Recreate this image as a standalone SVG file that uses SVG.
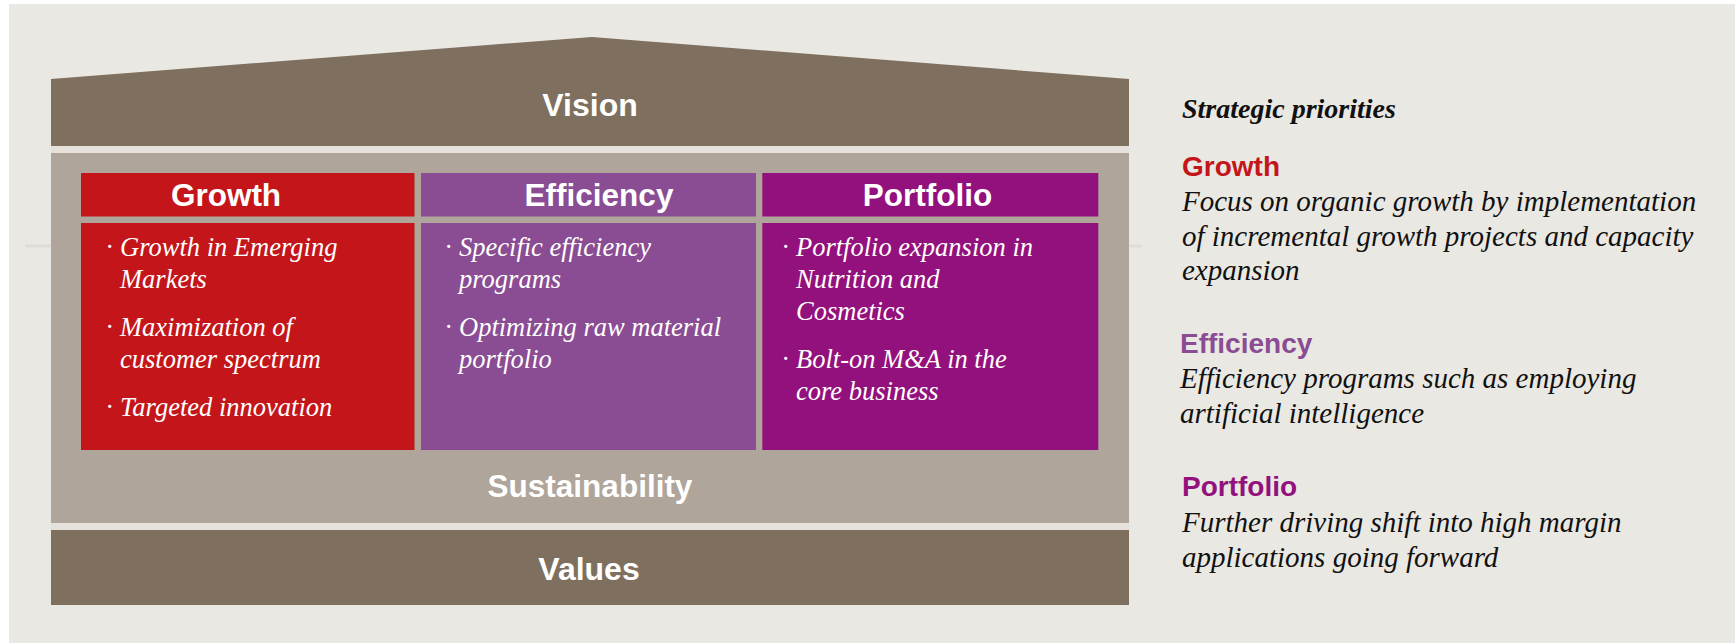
<svg xmlns="http://www.w3.org/2000/svg" width="1735" height="643" viewBox="0 0 1735 643">
<style>
.band{fill:#7F6F5F}
.sus{fill:#AFA59A}
.gap{fill:#E6E2DB}
.red{fill:#C4161A}
.pur{fill:#8A4C93}
.mag{fill:#93117C}
.hw{font-family:"Liberation Sans",Arial,sans-serif;font-weight:bold;fill:#FFFFFF;text-anchor:middle}
.bw{font-family:"Liberation Serif","Times New Roman",serif;font-style:italic;fill:#FFFFFF;font-size:26.5px}
.rt{font-family:"Liberation Serif","Times New Roman",serif;font-style:italic;fill:#111111;font-size:29px}
.rh{font-family:"Liberation Sans",Arial,sans-serif;font-weight:bold;font-size:28px}
</style>
<rect x="0" y="0" width="1735" height="643" fill="#FFFFFF"/>
<rect x="9" y="4" width="1726" height="639" fill="#EAE8E3"/>
<g id="faint-lines" stroke="#E0DDD6" stroke-width="3">
<line x1="25" y1="246" x2="51" y2="246"/>
<line x1="1129" y1="246" x2="1142" y2="246"/>
</g>
<g id="vision">
<polygon class="band" points="51,79 592,37 1129,79 1129,146 51,146"/>
<rect class="gap" x="51" y="146" width="1078" height="7"/>
<text class="hw" x="590" y="116" font-size="32">Vision</text>
</g>
<g id="sustainability">
<rect class="sus" x="51" y="153" width="1078" height="370"/>
<text class="hw" x="590" y="497" font-size="31.5">Sustainability</text>
</g>
<g id="values">
<rect class="gap" x="51" y="523" width="1078" height="7"/>
<rect class="band" x="51" y="530" width="1078" height="75"/>
<text class="hw" x="589" y="580" font-size="32">Values</text>
</g>
<g id="growth">
<rect class="red" x="81" y="173" width="333.5" height="43.5"/>
<rect class="red" x="81" y="223" width="333.5" height="227"/>
<text class="hw" x="226" y="206" font-size="31.5">Growth</text>
<text class="bw"><tspan x="106" y="256">·</tspan><tspan x="120" y="256">Growth in Emerging</tspan><tspan x="120" y="288">Markets</tspan><tspan x="106" y="336">·</tspan><tspan x="120" y="336">Maximization of</tspan><tspan x="120" y="368">customer spectrum</tspan><tspan x="106" y="416">·</tspan><tspan x="120" y="416">Targeted innovation</tspan></text>
</g>
<g id="efficiency">
<rect class="pur" x="421" y="173" width="335" height="43.5"/>
<rect class="pur" x="421" y="223" width="335" height="227"/>
<text class="hw" x="599" y="206" font-size="31.5">Efficiency</text>
<text class="bw"><tspan x="445" y="256">·</tspan><tspan x="459" y="256">Specific efficiency</tspan><tspan x="459" y="288">programs</tspan><tspan x="445" y="336">·</tspan><tspan x="459" y="336">Optimizing raw material</tspan><tspan x="459" y="368">portfolio</tspan></text>
</g>
<g id="portfolio">
<rect class="mag" x="762.3" y="173" width="336" height="43.5"/>
<rect class="mag" x="762.3" y="223" width="336" height="227"/>
<text class="hw" x="927.5" y="206" font-size="31.5">Portfolio</text>
<text class="bw"><tspan x="782" y="256">·</tspan><tspan x="796" y="256">Portfolio expansion in</tspan><tspan x="796" y="288">Nutrition and</tspan><tspan x="796" y="320">Cosmetics</tspan><tspan x="782" y="368">·</tspan><tspan x="796" y="368">Bolt-on M&amp;A in the</tspan><tspan x="796" y="400">core business</tspan></text>
</g>
<g id="connectors"></g>
<g id="strategic-priorities">
<text x="1182" y="118" font-family="'Liberation Serif','Times New Roman',serif" font-style="italic" font-weight="bold" font-size="28" fill="#111111">Strategic priorities</text>
<text class="rh" x="1182" y="176" fill="#C4161A">Growth</text>
<text class="rt"><tspan x="1182" y="211">Focus on organic growth by implementation</tspan><tspan x="1182" y="245.5">of incremental growth projects and capacity</tspan><tspan x="1182" y="280">expansion</tspan></text>
<text class="rh" x="1180" y="353" fill="#8A4C93">Efficiency</text>
<text class="rt"><tspan x="1180" y="388">Efficiency programs such as employing</tspan><tspan x="1180" y="423">artificial intelligence</tspan></text>
<text class="rh" x="1182" y="496" fill="#93117C">Portfolio</text>
<text class="rt"><tspan x="1182" y="532">Further driving shift into high margin</tspan><tspan x="1182" y="567">applications going forward</tspan></text>
</g>
</svg>
